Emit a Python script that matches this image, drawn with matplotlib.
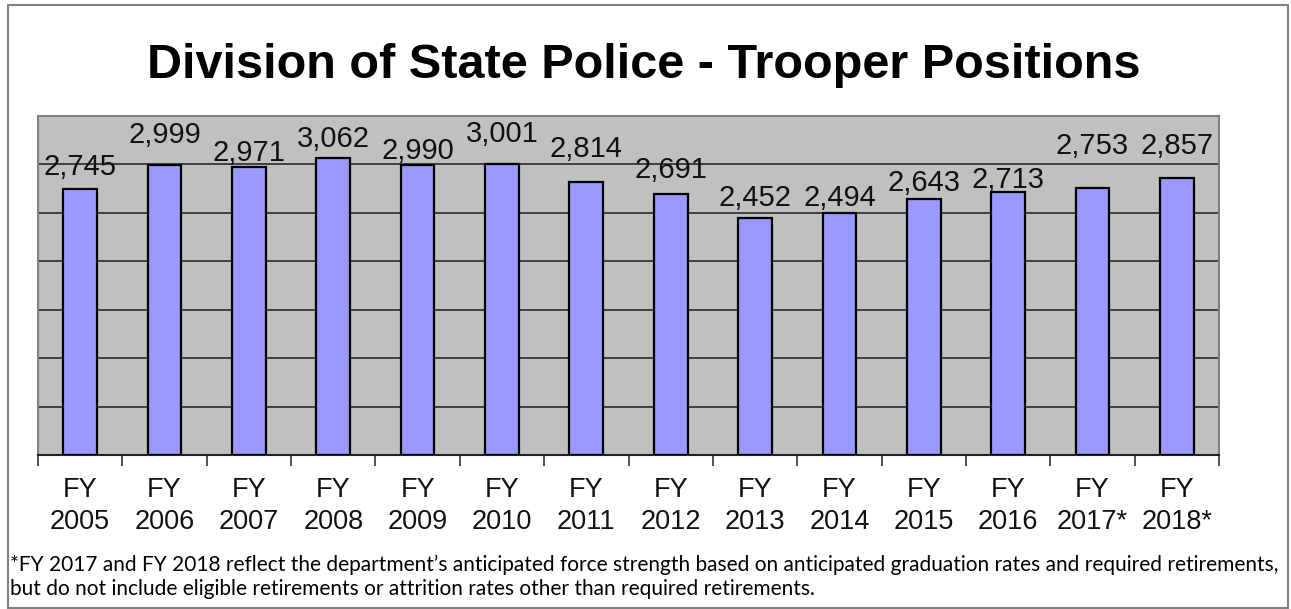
import matplotlib.pyplot as plt
from matplotlib.patches import Rectangle

# Trooper positions by fiscal year
years = ["2005", "2006", "2007", "2008", "2009", "2010", "2011",
         "2012", "2013", "2014", "2015", "2016", "2017*", "2018*"]
troopers = [2745, 2999, 2971, 3062, 2990, 3001, 2814,
            2691, 2452, 2494, 2643, 2713, 2753, 2857]

# vertical nudge (pixels) of each value label above its bar
label_lift = [22, 30, 14, 19, 14, 30, 33, 24, 20, 15, 16, 12, 42, 32]

sans = "Liberation Sans"
note_font = "Lato"

DPI = 100
fig = plt.figure(figsize=(12.91, 6.09), dpi=DPI)
W, H = 1291, 609

# outer frame
fig.patches.append(Rectangle((8 / W, 1 - 608 / H), 1280 / W, 603 / H,
                             transform=fig.transFigure, fill=False,
                             edgecolor="#808080", linewidth=1.5))

ax = fig.add_axes([38 / W, 1 - 455 / H, (1219 - 38) / W, (455 - 116) / H])
ax.set_facecolor("#C0C0C0")

x = list(range(len(years)))
ax.bar(x, troopers, width=0.4, color="#9999FF", edgecolor="black",
       linewidth=1.6, zorder=3)

for xi, v, lift in zip(x, troopers, label_lift):
    ax.annotate(f"{v:,}", (xi, v), xytext=(0, lift * 72 / DPI),
                textcoords="offset points", ha="center", va="center",
                fontsize=21, family=sans, color="#111111", zorder=4)

ax.set_xlim(-0.5, len(years) - 0.5)
ax.set_ylim(0, 3500)
ax.set_yticks(range(0, 3501, 500))
ax.tick_params(axis="y", left=False, labelleft=False)
ax.yaxis.grid(True, color="#2b2b2b", linewidth=1.2, zorder=1)
ax.set_axisbelow(True)

# category boundaries carry the tick marks, centres carry the labels
ax.set_xticks([i - 0.5 for i in range(len(years) + 1)], minor=True)
ax.set_xticks(x)
ax.set_xticklabels([f"FY\n{y}" for y in years], family=sans,
                   fontsize=19.5, linespacing=1.3, color="#111111")
ax.tick_params(axis="x", which="major", length=0, pad=16)
ax.tick_params(axis="x", which="minor", length=8, width=1.2,
               color="#333333", direction="out")

for side in ("top", "right", "left"):
    ax.spines[side].set_color("#808080")
    ax.spines[side].set_linewidth(1.5)
ax.spines["bottom"].set_color("#222222")
ax.spines["bottom"].set_linewidth(1.5)

fig.text(644 / W, 1 - 65 / H, "Division of State Police - Trooper Positions",
         ha="center", va="center", fontsize=35, fontweight="bold",
         family=sans, color="black")

fig.text(10 / W, 1 - 565 / H,
         "*FY 2017 and FY 2018 reflect the department\u2019s anticipated force "
         "strength based on anticipated graduation rates and required retirements,",
         ha="left", va="center", fontsize=15, family=note_font, color="black")
fig.text(10 / W, 1 - 589 / H,
         "but do not include eligible retirements or attrition rates other "
         "than required retirements.",
         ha="left", va="center", fontsize=15, family=note_font, color="black")

fig.savefig("out.png", dpi=DPI)
